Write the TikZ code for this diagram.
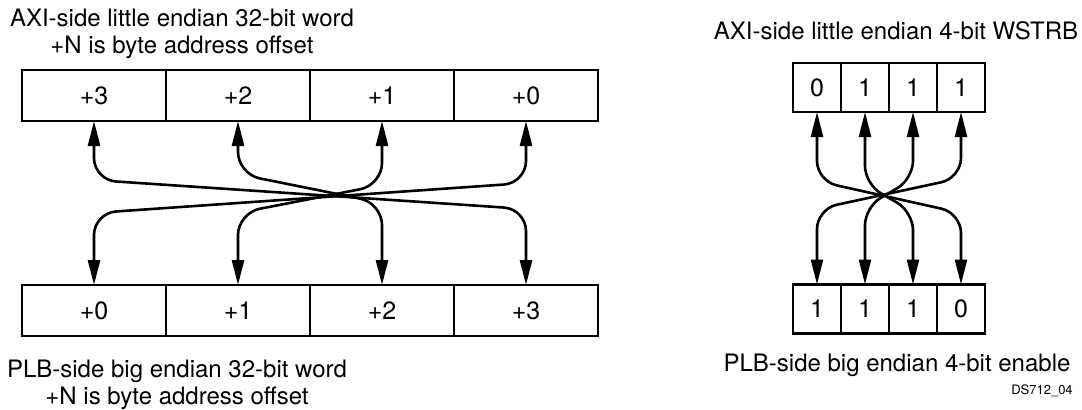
\documentclass[tikz,border=0pt]{standalone}
\usepackage{fontspec}
\setmainfont{TeX Gyre Heros}
\usetikzlibrary{arrows.meta}

\begin{document}
\begin{tikzpicture}[x=0.5pt,y=-0.5pt,>={Triangle[length=12.5pt,width=6pt]},
	cell/.style={draw,line width=1.3pt,outer sep=0pt,inner sep=0pt,minimum width=72pt,minimum height=25.5pt,font=\fontsize{12.5}{13}\selectfont},
	bit/.style={cell,minimum width=24pt,minimum height=24.5pt},
	link/.style={<->,line width=1.3pt,rounded corners=11pt},
	caption/.style={align=center,font=\fontsize{12}{13.2}\selectfont}]
	\useasboundingbox (0,0) rectangle (1082,409);
	% 32-bit word
	\node[caption] (axiword) at (182,34) {AXI-side little endian 32-bit word\\+N is byte address offset};
	\node[cell] (a3) at (94,95.5) {+3};
	\node[cell] (a2) at (238,95.5) {+2};
	\node[cell] (a1) at (382,95.5) {+1};
	\node[cell] (a0) at (526,95.5) {+0};
	\node[cell] (p0) at (94,310.5) {+0};
	\node[cell] (p1) at (238,310.5) {+1};
	\node[cell] (p2) at (382,310.5) {+2};
	\node[cell] (p3) at (526,310.5) {+3};
	\node[caption] (plbword) at (177,385) {PLB-side big endian 32-bit word\\+N is byte address offset};
	\draw[link] (a3.south) -- (a3.south |- 0,180) -- (p3.north |- 0,209) -- (p3.north);
	\draw[link] (a2.south) -- (a2.south |- 0,174) -- (p2.north |- 0,203) -- (p2.north);
	\draw[link] (a1.south) -- (a1.south |- 0,185) -- (p1.north |- 0,213) -- (p1.north);
	\draw[link] (a0.south) -- (a0.south |- 0,183) -- (p0.north |- 0,213) -- (p0.north);
	% 4-bit strobe
	\node[caption] (axistrb) at (896,31) {AXI-side little endian 4-bit WSTRB};
	\node[bit] (s0) at (817,87.5) {0};
	\node[bit] (s1) at (865,87.5) {1};
	\node[bit] (s2) at (913,87.5) {1};
	\node[bit] (s3) at (961,87.5) {1};
	\node[bit] (e0) at (817,309) {1};
	\node[bit] (e1) at (865,309) {1};
	\node[bit] (e2) at (913,309) {1};
	\node[bit] (e3) at (961,309) {0};
	\node[caption] (plbenable) at (897,365) {PLB-side big endian 4-bit enable};
	\draw[link,rounded corners=10pt] (s0.south) -- (s0.south |- 0,181) -- (e3.north |- 0,213) -- (e3.north);
	\draw[link,rounded corners=10pt] (s3.south) -- (s3.south |- 0,178) -- (e0.north |- 0,209) -- (e0.north);
	\draw[link,rounded corners=9pt] (s1.south) -- (s1.south |- 0,184) -- (e2.north |- 0,212) -- (e2.north);
	\draw[link,rounded corners=9pt] (s2.south) -- (s2.south |- 0,179) -- (e1.north |- 0,207) -- (e1.north);
	\node[font=\fontsize{6.5}{8}\selectfont] (figid) at (1042,391) {DS712\_04};
\end{tikzpicture}
\end{document}
